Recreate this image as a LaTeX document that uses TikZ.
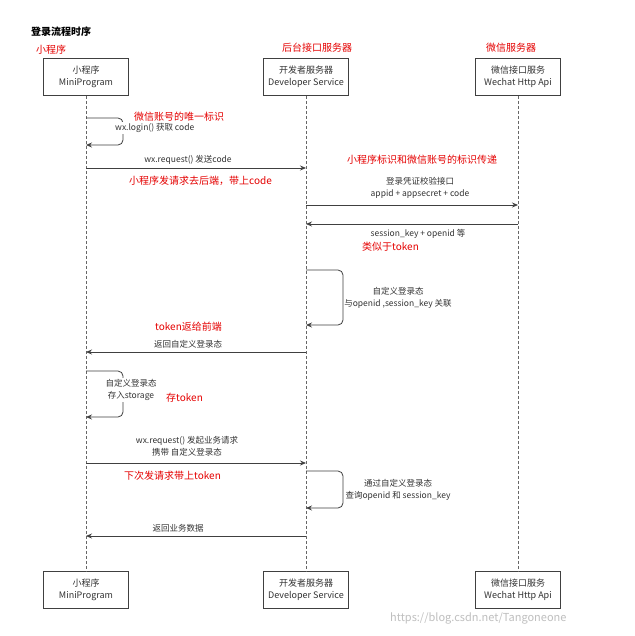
\documentclass[tikz,border=0pt]{standalone}
\usepackage{fontspec}
\setmainfont{Noto Sans CJK SC}
\usetikzlibrary{arrows.meta}
\begin{document}
\begin{tikzpicture}[x=1pt,y=-1pt,
  box/.style={draw=black!75,line width=0.8pt,minimum width=85pt,minimum height=37pt,align=center,font=\fontsize{9}{12}\selectfont,text=black!80,inner sep=1pt},
  life/.style={densely dashed,black!60,line width=0.6pt},
  msg/.style={black!75,line width=0.8pt,-{Stealth[length=6pt,width=5pt]}},
  loop/.style={black!75,line width=0.8pt,rounded corners=5pt,-{Stealth[length=6pt,width=5pt]}},
  lbl/.style={font=\fontsize{8.5}{12}\selectfont,text=black!80,align=center,inner sep=0pt},
  red/.style={font=\fontsize{10}{12}\selectfont,text=red!90!black,inner sep=0pt}]
\useasboundingbox[fill=white] (0,0) rectangle (634,636);
\node[font=\bfseries\fontsize{10}{12}\selectfont,anchor=west,inner sep=0pt] (title) at (31,32) {登录流程时序};
\node[red,anchor=west] (r1) at (36,50) {小程序};
\node[red] (r2) at (317,48) {后台接口服务器};
\node[red] (r3) at (511,48) {微信服务器};
\node[box] (a) at (86,77) {小程序\\MiniProgram};
\node[box] (b) at (306,77) {开发者服务器\\Developer Service};
\node[box] (c) at (518,77) {微信接口服务\\Wechat Http Api};
\node[box] (a2) at (86,590) {小程序\\MiniProgram};
\node[box] (b2) at (306,590) {开发者服务器\\Developer Service};
\node[box] (c2) at (518,590) {微信接口服务\\Wechat Http Api};
\draw[life] (a) -- (a2);
\draw[life] (b) -- (b2);
\draw[life] (c) -- (c2);
% loop 1
\coordinate (l1s) at (86,118); \coordinate (l1e) at (86,145);
\draw[loop] (l1s) -- (123,118) -- (123,145) -- (l1e);
\node[red,anchor=west] (t1) at (134,117) {微信账号的唯一标识};
\node[lbl,anchor=west,fill=white,inner sep=1pt] (t2) at (114,128) {wx.login() 获取 code};
% request
\coordinate (m1s) at (86,168); \coordinate (m1e) at (306,168);
\draw[msg] (m1s) -- (m1e);
\node[lbl] (t3) at (188,160) {wx.request() 发送code};
\node[red,anchor=west] (t4) at (129,181) {小程序发请求去后端，带上code};
\node[red,anchor=west] (t5) at (347,160) {小程序标识和微信账号的标识传递};
\node[lbl] (t6) at (420,188) {登录凭证校验接口\\appid + appsecret + code};
\coordinate (m2s) at (306,205); \coordinate (m2e) at (518,205);
\draw[msg] (m2s) -- (m2e);
\coordinate (m3s) at (518,224); \coordinate (m3e) at (306,224);
\draw[msg] (m3s) -- (m3e);
\node[lbl] (t7) at (418,234) {session\_key + openid 等};
\node[red,anchor=west] (t8) at (362,247) {类似于token};
% loop 2
\coordinate (l2s) at (306,270); \coordinate (l2e) at (306,325);
\draw[loop] (l2s) -- (343,270) -- (343,325) -- (l2e);
\node[lbl] (t9) at (398,298) {自定义登录态\\与openid ,session\_key 关联};
\node[red,anchor=west] (t10) at (155,327) {token返给前端};
\coordinate (m4s) at (306,352); \coordinate (m4e) at (86,352);
\draw[msg] (m4s) -- (m4e);
\node[lbl] (t11) at (188,344) {返回自定义登录态};
% loop 3
\coordinate (l3s) at (86,371); \coordinate (l3e) at (86,417);
\draw[loop] (l3s) -- (123,371) -- (123,417) -- (l3e);
\node[lbl,fill=white,inner sep=1pt] (t12) at (131,390) {自定义登录态\\存入storage};
\node[red,anchor=west] (t13) at (166,398) {存token};
% request 2
\node[lbl] (t14) at (187,446) {wx.request() 发起业务请求\\携带 自定义登录态};
\coordinate (m5s) at (86,463); \coordinate (m5e) at (306,463);
\draw[msg] (m5s) -- (m5e);
\node[red,anchor=west] (t15) at (124,476) {下次发请求带上token};
% loop 4
\coordinate (l4s) at (306,471); \coordinate (l4e) at (306,508);
\draw[loop] (l4s) -- (343,471) -- (343,508) -- (l4e);
\node[lbl,fill=white,inner sep=1pt] (t16) at (398,490) {通过自定义登录态\\查询openid 和 session\_key};
\node[lbl] (t17) at (178,528) {返回业务数据};
\coordinate (m6s) at (306,536); \coordinate (m6e) at (86,536);
\draw[msg] (m6s) -- (m6e);
\node[font=\fontsize{11}{13}\selectfont,text=black!25,anchor=west,inner sep=0pt] (wm) at (390,618) {https://blog.csdn.net/Tangoneone};
\end{tikzpicture}
\end{document}
